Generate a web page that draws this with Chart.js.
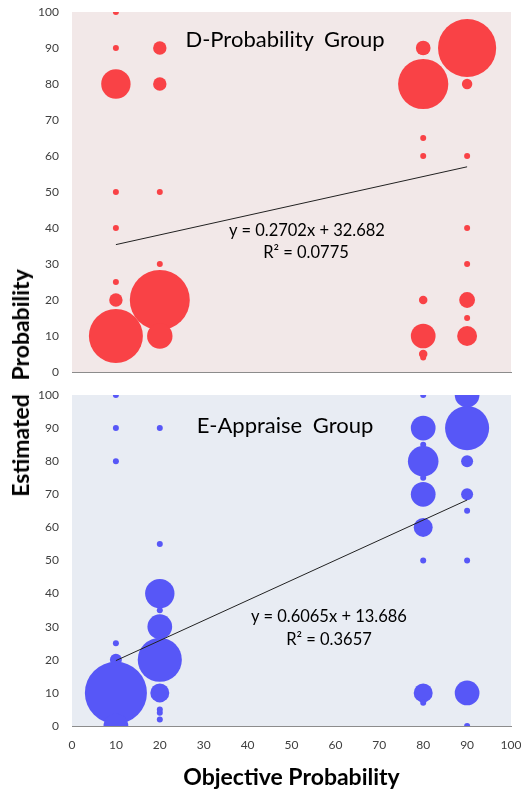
<!DOCTYPE html>
<html>
<head>
<meta charset="utf-8">
<script src="https://cdn.jsdelivr.net/npm/chart.js@4/dist/chart.umd.min.js"></script>
<style>
  html, body { margin: 0; padding: 0; background: #fff; }
  #wrap { position: relative; width: 521px; height: 794px; overflow: hidden; }
  canvas { position: absolute; left: 0; }
  .t { position: absolute; transform: translate(-50%, -50%); white-space: nowrap; font-family: Lato, "Open Sans", sans-serif; color: #000; }
  .ttl { font-size: 22px; word-spacing: 5px; }
  .eq { font-size: 16.5px; }
  .ylab { position: absolute; left: 20px; top: 383px; transform: translate(-50%, -50%) rotate(-90deg); white-space: nowrap;
          font-family: Lato, sans-serif; font-weight: bold; font-size: 23px; word-spacing: 8px; color: #000; }
</style>
</head>
<body>
<div id="wrap">
  <canvas id="c1" width="521" height="380" style="top:0"></canvas>
  <canvas id="c2" width="521" height="414" style="top:380px"></canvas>
  <div class="t ttl" style="left:285px; top:38px;">D-Probability Group</div>
  <div class="t eq" style="left:307px; top:230px;">y = 0.2702x + 32.682</div>
  <div class="t eq" style="left:306px; top:252px;">R² = 0.0775</div>
  <div class="t ttl" style="left:285px; top:424px;">E-Appraise Group</div>
  <div class="t eq" style="left:329px; top:616px;">y = 0.6065x + 13.686</div>
  <div class="t eq" style="left:329px; top:639px;">R² = 0.3657</div>
  <div class="ylab">Estimated Probability</div>
</div>
<script>
// ---- Data: D-Probability Group (objective x, estimated y, count n) ----
const dX = [10, 10, 20, 10, 20, 10, 20, 10, 20, 10, 10, 10, 20, 20,
            80, 90, 80, 90, 80, 80, 90, 90, 90, 80, 90, 90, 80, 90, 80, 80];
const dY = [100, 90, 90, 80, 80, 50, 50, 40, 30, 25, 20, 10, 20, 10,
            90, 90, 80, 80, 65, 60, 60, 40, 30, 20, 20, 15, 10, 10, 5, 4];
const dN = [1, 1, 5, 24, 5, 1, 1, 1, 1, 1, 5, 81, 100, 18,
            6, 94, 70, 3, 1, 1, 1, 1, 1, 2, 7, 1, 17, 11, 2, 1];

// ---- Data: E-Appraise Group ----
const eX = [10, 10, 20, 10, 20, 20, 20, 20, 20, 20, 20, 20, 20, 10, 10, 10, 10,
            80, 90, 90, 80, 80, 80, 80, 80, 80, 80, 90, 90, 90, 90, 80, 80, 90, 90];
const eY = [100, 90, 90, 80, 55, 40, 35, 30, 20, 10, 5, 4, 2, 25, 20, 10, 0,
            100, 100, 90, 90, 85, 80, 75, 70, 60, 50, 80, 70, 65, 50, 10, 7, 10, 0];
const eN = [1, 1, 1, 1, 1, 24, 1, 17, 54, 10, 1, 1, 1, 1, 4, 107, 17,
            1, 17, 54, 17, 1, 26, 1, 17, 10, 1, 4, 4, 1, 1, 10, 1, 17, 1];

// ---- Linear trendlines (from the fitted equations) ----
const dTrend = { slope: 0.2702, intercept: 32.682 };
const eTrend = { slope: 0.6065, intercept: 13.686 };
const trendRange = [10, 90];

const RED = '#F94246';
const BLUE = '#5757F7';

function bubbles(xs, ys, ns) {
  return xs.map((x, i) => ({ x: x, y: ys[i], r: 3 * Math.sqrt(ns[i]) }));
}
function trend(t) {
  return trendRange.map(x => ({ x: x, y: t.slope * x + t.intercept }));
}

const bgPlugin = {
  id: 'bg',
  beforeDatasetsDraw(chart, args, opts) {
    const a = chart.chartArea, ctx = chart.ctx;
    ctx.save();
    ctx.fillStyle = opts.color;
    ctx.fillRect(a.left, a.top, a.right - a.left, a.bottom - a.top);
    ctx.restore();
  }
};

const tickFont = { family: 'Lato, "Open Sans", sans-serif', size: 12 };
const axisColor = '#8c8c8c';

function makeChart(id, xs, ys, ns, tr, color, bg, bottom) {
  return new Chart(document.getElementById(id), {
    type: 'bubble',
    data: {
      datasets: [
        { type: 'line', data: trend(tr), borderColor: '#222', borderWidth: 1, pointRadius: 0, fill: false, clip: 0, order: 0 },
        { data: bubbles(xs, ys, ns), backgroundColor: color, borderWidth: 0, clip: 0, order: 1 }
      ]
    },
    options: {
      responsive: false,
      animation: false,
      devicePixelRatio: 1,
      layout: { autoPadding: false, padding: { top: bottom ? 15 : 12, right: 10, left: 0, bottom: 0 } },
      plugins: { legend: { display: false }, tooltip: { enabled: false }, bg: { color: bg } },
      scales: {
        x: {
          type: 'linear', min: 0, max: 100,
          grid: { display: false, drawTicks: false },
          border: { display: true, color: axisColor, width: 1 },
          ticks: { display: bottom, stepSize: 10, padding: 12, font: tickFont, color: '#404040', maxRotation: 0 },
          title: bottom ? { display: true, text: 'Objective Probability', color: '#000',
                   font: { family: 'Lato, sans-serif', size: 23, weight: 'bold' }, padding: { top: 0, bottom: 3 } } : { display: false },
          afterFit: s => { s.height = bottom ? 68 : 8; s.paddingLeft = 0; s.paddingRight = 0; }
        },
        y: {
          type: 'linear', min: 0, max: 100,
          grid: { display: false, drawTicks: false },
          border: { display: true, color: axisColor, width: 1 },
          ticks: { stepSize: 10, padding: 13, font: tickFont, color: '#404040' },
          afterFit: s => { s.width = 72; s.paddingTop = 0; s.paddingBottom = 0; }
        }
      }
    },
    plugins: [bgPlugin]
  });
}

makeChart('c1', dX, dY, dN, dTrend, RED, '#F2E8E8', false);
makeChart('c2', eX, eY, eN, eTrend, BLUE, '#E8ECF3', true);
</script>
</body>
</html>
